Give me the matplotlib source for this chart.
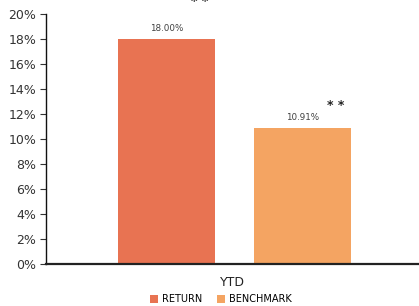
import matplotlib
matplotlib.use("Agg")
import matplotlib.pyplot as plt
from matplotlib.ticker import FuncFormatter

# data
category = "YTD"
series = ["RETURN", "BENCHMARK"]
values = [18.00, 10.91]
colors = ["#E87352", "#F4A462"]
offsets = [-0.176, 0.19]
yticks = list(range(0, 21, 2))

fig = plt.figure(figsize=(4.19, 3.06), dpi=100)
ax = fig.add_axes([0.1098, 0.1373, 0.8878, 0.816])

star_y = [21.55, 13.25]   # where the ** marks sit (top edge)
for off, v, c, name, sy in zip(offsets, values, colors, series, star_y):
    ax.bar(off, v, width=0.261, color=c, label=name)
    ax.text(off, v + 0.5, "%.2f%%" % v, ha="center", va="bottom",
            fontsize=6.3, color="#404040")
    # significance marks
    ax.text(off + 0.09, sy, "* *", ha="center", va="top",
            fontsize=9, fontweight="bold", color="#222222", clip_on=False)

ax.set_xlim(-0.5, 0.5)
ax.set_ylim(0, 20)
ax.set_yticks(yticks)
ax.yaxis.set_major_formatter(FuncFormatter(lambda y, p: "%d%%" % y))
ax.set_xticks([0.0])
ax.set_xticklabels([category])
ax.tick_params(axis="x", length=0, labelsize=9, colors="#222222", pad=9)
ax.tick_params(axis="y", length=4, width=0.8, labelsize=9, colors="#333333", pad=3)

ax.spines["top"].set_visible(False)
ax.spines["right"].set_visible(False)
ax.spines["left"].set_linewidth(1.0)
ax.spines["bottom"].set_linewidth(1.6)
ax.spines["left"].set_color("#111111")
ax.spines["bottom"].set_color("#222222")

ax.legend(loc="center", bbox_to_anchor=(0.47, -0.142), ncol=2, frameon=False,
          fontsize=7, handlelength=0.75, handleheight=0.75, handletextpad=0.4,
          columnspacing=1.6, borderaxespad=0, borderpad=0)

fig.savefig("out.png", dpi=100)
